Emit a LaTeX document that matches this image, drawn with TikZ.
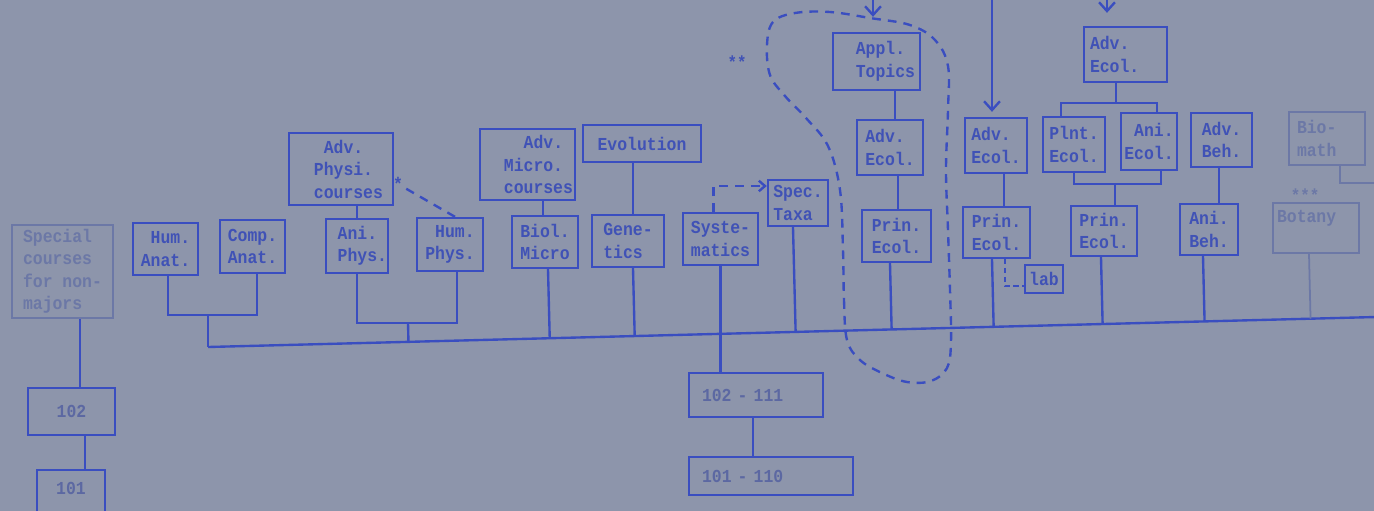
\documentclass[tikz,border=0pt]{standalone}
\usepackage{fontspec}
\newfontfamily\tw{Liberation Mono}[FakeStretch=0.9]
\usetikzlibrary{calc,arrows.meta}
\definecolor{bg}{RGB}{141,149,171}
\definecolor{ink}{RGB}{58,78,192}
\definecolor{tink}{RGB}{64,82,182}
\definecolor{midc}{RGB}{92,104,162}
\definecolor{faint}{RGB}{108,120,166}
\newcommand\bxfont{\tw\bfseries\fontsize{10.4}{12.8}\selectfont}
\newcommand\busdrop[1]{\draw[wire] (#1) -- ($(busL)!(#1)!(busR)$);}
\tikzset{
  wire/.style={draw=ink,line width=1.35pt},
  dsh/.style={draw=ink,line width=1.35pt,dash pattern=on 5pt off 4pt},
  sdsh/.style={draw=ink,line width=1.35pt,dash pattern=on 3pt off 2pt},
  box/.style={draw=ink,line width=1.35pt,text=tink,font=\bxfont,inner sep=0pt},
  fbox/.style={draw=faint,line width=1pt,text=faint,font=\bxfont,inner sep=0pt},
  wh/.style 2 args={minimum width=#1*0.02cm,minimum height=#2*0.02cm},
  tip/.style={-{Straight Barb[length=5pt,width=9pt]}},
  stip/.style={-{Straight Barb[length=3.5pt,width=6pt]}}
}
\begin{document}
\begin{tikzpicture}[x=0.02cm,y=-0.02cm]
\fill[bg] (0,0) rectangle (1374,511);
\useasboundingbox (0,0) rectangle (1374,511);
\clip (0,0) rectangle (1374,511);

% ---------- boxes ----------
\node[fbox,wh={101}{93},align=left] (spec) at (62.5,271.5) {Special\\courses\\for non-\\majors};
\node[box,text=midc,wh={87}{47}] (b102) at (71.5,411.5) {102};
\node[box,text=midc,wh={68}{60},align=center] (b101) at (71,500) {101\\\mbox{}};

\node[box,wh={65}{52},align=right] (humanat) at (165.5,249) {Hum.\\Anat.};
\node[box,wh={65}{53},align=left] (companat) at (252.5,246.5) {Comp.\\Anat.};

\node[box,wh={104}{72},align=right,inner xsep=0.2cm,text width=1.68cm] (advphys) at (341,169) {Adv.\phantom{xx}\\Physi.\phantom{x}\\courses};
\node[text=tink,font=\bxfont,inner sep=0pt] (ast) at (398,184) {*};
\node[box,wh={62}{54},align=right,inner xsep=0.02cm,text width=1.2cm] (aniphys) at (357,246) {Ani.\phantom{x}\\Phys.};
\node[box,wh={66}{53},align=right] (humphys) at (450,244.5) {Hum.\\Phys.};

\node[box,wh={95}{71},align=right,inner xsep=0.04cm,text width=1.82cm] (advmicro) at (527.5,164.5) {Adv.\phantom{x}\\Micro.\phantom{x}\\courses};
\node[box,wh={66}{52},align=center] (biolmicro) at (545,242) {Biol.\\Micro};
\node[box,wh={118}{37}] (evolution) at (642,143.5) {Evolution};
\node[box,wh={72}{52},align=left] (genetics) at (628,241) {Gene-\\tics};
\node[box,wh={75}{52},align=left] (systematics) at (720.5,239) {Syste-\\matics};
\node[box,wh={60}{46},align=left] (spectaxa) at (798,203) {Spec.\\Taxa};

\node[box,text=midc,wh={134}{44},align=left,inner xsep=0.26cm,text width=2.16cm] (b102111) at (756,395) {102 - 111};
\node[box,text=midc,wh={164}{38},align=left,inner xsep=0.26cm,text width=2.76cm] (b101110) at (771,476) {101 - 110};

\node[box,wh={87}{57},align=right,inner xsep=0.1cm,text width=1.54cm] (applt) at (876.5,61.5) {Appl.\phantom{x}\\Topics};
\node[box,wh={66}{55},align=left] (advecolA) at (890,147.5) {Adv.\\Ecol.};
\node[box,wh={69}{52},align=left] (prinecolA) at (896.5,236) {Prin.\\Ecol.};

\node[box,wh={62}{55},align=left] (advecolB) at (996,145.5) {Adv.\\Ecol.};
\node[box,wh={67}{51},align=left] (prinecolB) at (996.5,232.5) {Prin.\\Ecol.};
\node[box,wh={38}{28}] (lab) at (1044,279) {lab};

\node[box,wh={83}{55},align=left,inner xsep=0.12cm,text width=1.42cm] (advecolC) at (1125.5,54.5) {Adv.\\Ecol.};
\node[box,wh={62}{55},align=left] (plnt) at (1074,144.5) {Plnt.\\Ecol.};
\node[box,wh={56}{57},align=right] (aniecol) at (1149,141.5) {Ani.\\Ecol.};
\node[box,wh={66}{50},align=left] (prinecolC) at (1104,231) {Prin.\\Ecol.};

\node[box,wh={61}{54},align=left] (advbeh) at (1221.5,140) {Adv.\\Beh.};
\node[box,wh={58}{51},align=left] (anibeh) at (1209,229.5) {Ani.\\Beh.};

\node[fbox,wh={76}{53},align=left,inner xsep=0.16cm,text width=1.2cm] (biomath) at (1327,138.5) {Bio-\\math};
\node[fbox,wh={86}{50},align=left,inner xsep=0.08cm,text width=1.56cm] (botany) at (1316,228) {Botany\\\mbox{}};

\node[text=tink,font=\tw\bfseries\fontsize{10}{10}\selectfont,inner sep=0pt] (st2) at (737,62) {**};
\node[text=faint,font=\tw\bfseries\fontsize{10}{10}\selectfont,inner sep=0pt] (st3) at (1305,195) {***};

% ---------- main bus ----------
\coordinate (busL) at (208,347);
\coordinate (busR) at (1376,317);
\draw[wire] (busL) -- (busR);

% special courses chain
\coordinate (sp) at ($(spec.south)+(17.5,0)$);
\draw[wire] (sp) -- (sp |- b102.north);
\coordinate (sq) at ($(b102.south)+(13.5,0)$);
\draw[wire] (sq) -- (sq |- b101.north);

% anatomy bracket
\coordinate (brA) at (208,315);
\draw[wire] ($(humanat.south)+(2.5,0)$) |- (brA) -| ($(companat.south)+(4.5,0)$);
\draw[wire] (brA) -- (busL);

% physiology
\draw[wire] (aniphys.north) -- (aniphys.north |- advphys.south);
\coordinate (brB) at (408,323);
\draw[wire] (aniphys.south) |- (brB) -| ($(humphys.south)+(7,0)$);
\busdrop{brB}
\draw[dsh] ($(humphys.north)+(5,0)$) -- (ast);

% microbiology
\coordinate (mA) at ($(biolmicro.north)+(-2,0)$);
\draw[wire] (mA) -- (mA |- advmicro.south);
\coordinate (dBio) at ($(biolmicro.south)+(3,0)$);
\busdrop{dBio}

% evolution / genetics
\coordinate (eA) at ($(genetics.north)+(5,0)$);
\draw[wire] (eA) -- (eA |- evolution.south);
\coordinate (dGen) at ($(genetics.south)+(5,0)$);
\busdrop{dGen}

% systematics
\draw[wire] (systematics.south) -- (systematics.south |- b102111.north);
\coordinate (sA) at ($(systematics.north)+(-7,0)$);
\draw[dsh,stip] (sA) |- ($(spectaxa.west)+(0,-17)$);
\coordinate (dTax) at ($(spectaxa.south)+(-5,0)$);
\busdrop{dTax}
\coordinate (nA) at ($(b102111.south)+(-3,0)$);
\draw[wire] (nA) -- (nA |- b101110.north);

% applied topics column
\coordinate (topA) at (873,-2);
\draw[wire,tip] (topA) -- ($(applt.north)+(-3.5,-15)$);
\coordinate (aA) at ($(advecolA.north)+(5,0)$);
\draw[wire] (aA) -- (aA |- applt.south);
\coordinate (aB) at ($(prinecolA.north)+(1.5,0)$);
\draw[wire] (aB) -- (aB |- advecolA.south);
\coordinate (dPA) at ($(prinecolA.south)+(-6.5,0)$);
\busdrop{dPA}

% second ecology column
\coordinate (topB) at (992,-2);
\draw[wire,tip] (topB) -- ($(advecolB.north)+(-4,-5)$);
\coordinate (bA) at ($(prinecolB.north)+(7.5,0)$);
\draw[wire] (bA) -- (bA |- advecolB.south);
\coordinate (dPB) at ($(prinecolB.south)+(-4.5,0)$);
\busdrop{dPB}
\draw[sdsh] ($(prinecolB.south)+(8.5,0)$) |- ($(lab.west)+(0,7)$);

% third ecology column
\coordinate (topC) at (1107,-2);
\draw[wire,tip] (topC) -- ($(advecolC.north)+(-18.5,-13)$);
\coordinate (brC) at (1116,103);
\draw[wire] (advecolC.south -| brC) -- (brC);
\draw[wire] ($(plnt.north)+(-13,0)$) |- (brC) -| ($(aniecol.north)+(8,0)$);
\coordinate (brD) at (1115,184);
\draw[wire] (plnt.south) |- (brD) -| ($(aniecol.south)+(12,0)$);
\draw[wire] (brD) -- (brD |- prinecolC.north);
\coordinate (dPC) at ($(prinecolC.south)+(-3,0)$);
\busdrop{dPC}

% behaviour
\coordinate (hA) at ($(advbeh.south)+(-2.5,0)$);
\draw[wire] (hA) -- (hA |- anibeh.north);
\coordinate (dAB) at ($(anibeh.south)+(-6,0)$);
\busdrop{dAB}

% bio-math / botany
\coordinate (mEnd) at (1378,183);
\draw[draw=faint,line width=1pt] ($(biomath.south)+(13,0)$) |- (mEnd);
\coordinate (dBot) at ($(botany.south)+(-7,0)$);
\draw[draw=faint,line width=1pt] (dBot) -- ($(busL)!(dBot)!(busR)$);

% dashed loop around applied topics column
\draw[dsh] plot[smooth cycle,tension=0.6] coordinates {
 (843,250) (844,300) (847,340) (860,360) (882,373) (907,382) (931,381)
 (947,368) (951,342) (950,290) (948,230) (946,170) (948,110) (948,66)
 (935,40) (910,25) (870,18) (830,12) (795,13) (773,22) (767,45) (770,75)
 (785,96) (806,118) (828,146) (840,190)};
\end{tikzpicture}
\end{document}
